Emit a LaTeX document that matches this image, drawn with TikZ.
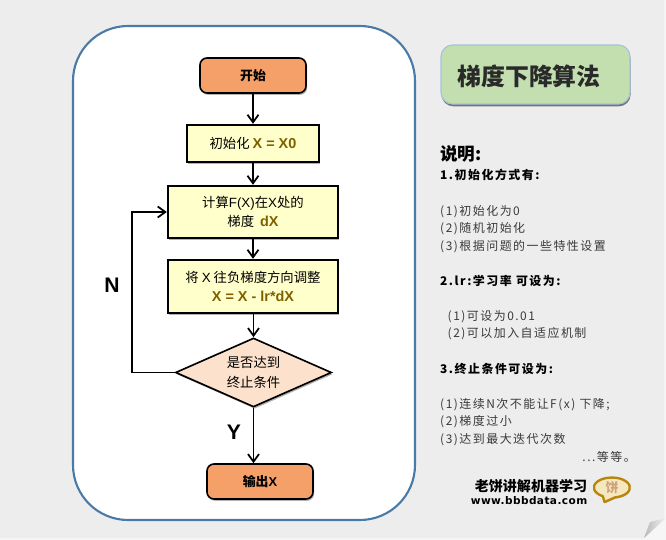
\documentclass[tikz,border=0pt]{standalone}
\usepackage{fontspec}
\setmainfont{Noto Sans CJK SC}
\newfontfamily\lat{Liberation Sans}
\newfontfamily\spacedcjk[LetterSpace=12.5]{Noto Sans CJK SC}
\newfontfamily\urlfont[LetterSpace=4]{DejaVu Sans}
\usetikzlibrary{shapes.geometric,arrows.meta,shadows}
\definecolor{pagebg}{HTML}{EDEDED}
\definecolor{pageedge}{HTML}{F6F6F6}
\definecolor{panelblue}{HTML}{4A7AA7}
\definecolor{orangefill}{HTML}{F4A068}
\definecolor{yellowfill}{HTML}{FFFFCC}
\definecolor{peachfill}{HTML}{FCE2CC}
\definecolor{titlegreen}{HTML}{C4DFAF}
\definecolor{titleedge}{HTML}{A3C4E0}
\definecolor{titletext}{HTML}{2A2A2A}
\definecolor{varbrown}{HTML}{7F6000}
\definecolor{bodytext}{HTML}{3A3A3A}
\definecolor{foldgray}{HTML}{B8B8B8}
\definecolor{bubblefill}{HTML}{F6E8BE}
\definecolor{bubbleedge}{HTML}{B8860B}
\definecolor{bubbletext}{HTML}{CFA27C}
\newcommand{\px}{0.03cm}
\newcommand{\var}[1]{{\lat\bfseries\fontsize{12.3pt}{16.5pt}\selectfont\color{varbrown}#1}}
\tikzset{
  x=\px,y=-\px,
  softshadow/.style={drop shadow={shadow xshift=1pt,shadow yshift=-1.6pt,opacity=.3,fill=black}},
  flowbase/.style={draw=black,text=black,align=center,inner sep=0pt,font=\fontsize{11.4pt}{16.5pt}\selectfont,softshadow},
  termbox/.style={flowbase,rounded corners=6pt,line width=1.4pt,fill=orangefill,minimum width=106*\px,minimum height=35*\px,font=\fontsize{11pt}{13pt}\selectfont\bfseries},
  procbox/.style={flowbase,line width=2pt,fill=yellowfill},
  decbox/.style={flowbase,diamond,shape aspect=2.26,line width=1.4pt,fill=peachfill,minimum width=156*\px,minimum height=69*\px},
  flow/.style={draw=black,line width=1.5pt,-{Straight Barb[length=6.5pt,width=9.4pt,line width=1.5pt]}},
  notehead/.style={anchor=west,inner sep=0pt,text=black,text height=8pt,text depth=2pt,font=\spacedcjk\fontsize{10.2pt}{12pt}\selectfont\bfseries},
  notebody/.style={anchor=west,inner sep=0pt,text=bodytext,text height=8pt,text depth=2pt,font=\spacedcjk\fontsize{10.2pt}{12pt}\selectfont},
  flowlabel/.style={inner sep=0pt,text=black,font=\lat\fontsize{18pt}{19pt}\selectfont\bfseries}
}
\begin{document}
\begin{tikzpicture}
\useasboundingbox (0,0) rectangle (666,540);
% page with folded corner
\fill[pageedge] (0,0) rectangle (666,540);
\fill[pagebg] (0,0) -- (664,0) -- (664,519) -- (644,538) -- (0,538) -- cycle;
\path[left color=foldgray,right color=pagebg!70!white] (666,518) -- (650,522) -- (644,538) -- cycle;
% panel
\draw[panelblue,line width=1.8pt,fill=white,rounded corners=47pt] (73,26) rectangle (415,520);
% flowchart
\node[termbox] (start) at (253,75.5) {开始};
\node[procbox,minimum width=132*\px,minimum height=37*\px] (init) at (253,143.5) {初始化 \var{X = X0}};
\node[procbox,minimum width=170*\px,minimum height=52*\px] (grad) at (253,212) {计算{\lat F(X)}在{\lat X}处的\\梯度\ \ \var{dX}};
\node[procbox,minimum width=170*\px,minimum height=53*\px] (update) at (253,286.5) {将 {\lat X} 往负梯度方向调整\\\var{X = X - lr*dX}};
\node[decbox] (dec) at (253.5,372.5) {是否达到\\终止条件};
\node[termbox] (out) at (260,481.5) {输出{\lat X}};
\coordinate (loop) at (132,290);
\draw[flow] (start) -- (init);
\draw[flow] (init) -- (grad);
\draw[flow] (grad) -- (update);
\draw[flow] (update.south -| dec.north) -- (dec.north);
\draw[flow] (dec.south) -- (dec.south |- out.north);
\draw[flow] (dec.west) -- (dec.west -| loop) |- (grad.west);
\node[flowlabel] (nlabel) at (112,285) {N};
\node[flowlabel] (ylabel) at (234,432) {Y};
% title
\node[draw=titleedge,line width=1pt,fill=titlegreen,rounded corners=10pt,minimum width=189*\px,minimum height=59*\px,inner sep=0pt,drop shadow={shadow xshift=0.5pt,shadow yshift=-2pt,opacity=.5,fill=black}] (titlebox) at (535.5,74.5) {};
\node[inner sep=0pt,text=titletext,font=\fontsize{20.4pt}{22pt}\selectfont\bfseries] (title) at (529,76) {梯度下降算法};
% notes
\node[anchor=west,inner sep=0pt,text=black,font=\fontsize{15pt}{17pt}\selectfont\bfseries] (h0) at (440,154) {说明:};
\node[notehead] (n1) at (440,176) {1.初始化方式有:};
\node[notebody] (n2) at (440,212) {(1)初始化为0};
\node[notebody] (n3) at (440,229) {(2)随机初始化};
\node[notebody] (n4) at (440,247) {(3)根据问题的一些特性设置};
\node[notehead] (n5) at (440,282) {2.lr:学习率 可设为:};
\node[notebody] (n6) at (447.5,317) {(1)可设为0.01};
\node[notebody] (n7) at (447.5,334) {(2)可以加入自适应机制};
\node[notehead] (n8) at (440,370) {3.终止条件可设为:};
\node[notebody] (n9) at (440,405) {(1)连续N次不能让F(x) 下降;};
\node[notebody] (n10) at (440,422) {(2)梯度过小};
\node[notebody] (n11) at (440,440) {(3)达到最大迭代次数};
\node[notebody,anchor=east] (n12) at (636,458) {...等等。};
% footer
\node[anchor=east,inner sep=0pt,text=black,font=\fontsize{12pt}{14pt}\selectfont\bfseries] (brand) at (587.5,486) {老饼讲解机器学习};
\node[anchor=east,inner sep=0pt,text=black,font=\urlfont\fontsize{9pt}{11pt}\selectfont\bfseries] (url) at (587.5,501) {www.bbbdata.com};
% speech bubble
\draw[bubbleedge,line width=2pt,fill=bubblefill,line join=round,drop shadow={shadow xshift=0.6pt,shadow yshift=-1pt,opacity=.25,fill=black}]
  (615,497.4) arc[start angle=280,end angle=600,x radius=18*\px,y radius=10*\px] -- (604.5,502) -- cycle;
\node[inner sep=0pt,text=bubbletext,font=\fontsize{11pt}{12pt}\selectfont\bfseries] (bubble) at (612,487.5) {饼};
\end{tikzpicture}
\end{document}
